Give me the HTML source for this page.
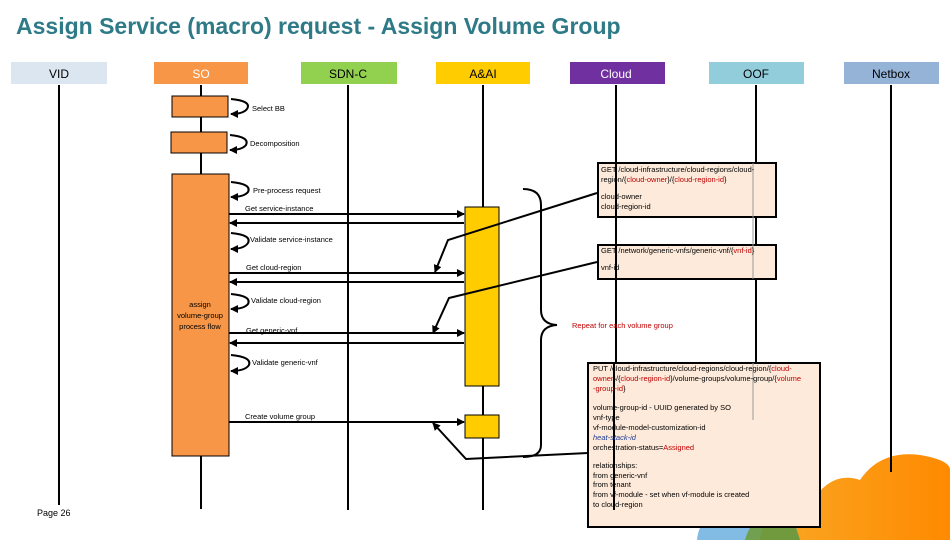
<!DOCTYPE html>
<html><head><meta charset="utf-8"><style>
body{margin:0;background:#fff;}
svg{display:block;font-family:"Liberation Sans",sans-serif;}
.t{font-size:7.5px;fill:#000;}
.r{fill:#c00000;}
</style></head><body>
<svg width="950" height="540" viewBox="0 0 950 540" xmlns="http://www.w3.org/2000/svg">
<defs>
<marker id="a" markerWidth="8" markerHeight="8" refX="7" refY="4" orient="auto" markerUnits="userSpaceOnUse"><path d="M0,0 L8,4 L0,8 z" fill="#000"/></marker>
<linearGradient id="og" x1="0" x2="1"><stop offset="0" stop-color="#f9a826"/><stop offset="1" stop-color="#ff8a00"/></linearGradient>
</defs>
<!-- decorative clouds -->
<path d="M760,540 Q765,500 810,505 Q830,470 860,480 Q880,450 920,455 Q950,460 950,470 L950,540 z" fill="url(#og)"/>
<path d="M697,540 Q700,508 740,510 Q760,495 790,508 L800,540 z" fill="#2f8ed0" opacity="0.6"/>
<path d="M745,540 Q755,505 790,512 L800,540 z" fill="#6d9a2a" opacity="0.8"/>
<text x="16" y="34" font-size="23" font-weight="bold" fill="#2e7a87">Assign Service (macro) request - Assign Volume Group</text>
<!-- headers -->
<g font-size="12" text-anchor="middle">
<rect x="11" y="62" width="96" height="22" fill="#dce6f1"/><text x="59" y="78">VID</text>
<rect x="154" y="62" width="94" height="22" fill="#f79646"/><text x="201" y="78" fill="#fff">SO</text>
<rect x="301" y="62" width="96" height="22" fill="#92d050"/><text x="348" y="78">SDN-C</text>
<rect x="436" y="62" width="94" height="22" fill="#ffcc00"/><text x="483" y="78">A&amp;AI</text>
<rect x="570" y="62" width="95" height="22" fill="#7030a0"/><text x="616" y="78" fill="#fff">Cloud</text>
<rect x="709" y="62" width="95" height="22" fill="#92cddc"/><text x="756" y="78">OOF</text>
<rect x="844" y="62" width="95" height="22" fill="#95b3d7"/><text x="891" y="78">Netbox</text>
</g>
<!-- lifelines -->
<g stroke="#000" stroke-width="2">
<line x1="59" y1="85" x2="59" y2="505"/>
<line x1="201" y1="85" x2="201" y2="509"/>
<line x1="348" y1="85" x2="348" y2="510"/>
<line x1="483" y1="85" x2="483" y2="510"/>
<line x1="616" y1="85" x2="616" y2="510"/>
<line x1="756" y1="85" x2="756" y2="472"/>
<line x1="891" y1="85" x2="891" y2="472"/>
</g>
<!-- SO activations -->
<g fill="#f79646" stroke="#000" stroke-width="1">
<rect x="172" y="96" width="56" height="21"/>
<rect x="171" y="132" width="56" height="21"/>
<rect x="172" y="174" width="57" height="282"/>
</g>
<text x="200" y="307" class="t" text-anchor="middle">assign</text>
<text x="200" y="318" class="t" text-anchor="middle">volume-group</text>
<text x="200" y="329" class="t" text-anchor="middle">process flow</text>
<!-- A&AI activations -->
<g fill="#ffcc00" stroke="#000" stroke-width="1">
<rect x="465" y="207" width="34" height="179"/>
<rect x="465" y="415" width="34" height="23"/>
</g>
<!-- self loops -->
<g fill="none" stroke="#000" stroke-width="2" marker-end="url(#a)">
<path d="M231,99 Q252,101 247,109 Q243,114 231,114"/>
<path d="M230,135 Q250,137 246,145 Q242,150 230,150"/>
<path d="M231,182 Q252,184 248,192 Q244,197 231,197"/>
<path d="M231,233 Q252,235 248,243 Q244,249 231,249"/>
<path d="M231,294 Q252,296 248,304 Q244,309 231,309"/>
<path d="M231,355 Q252,357 249,365 Q245,371 231,371"/>
</g>
<!-- messages -->
<g stroke="#000" stroke-width="2" marker-end="url(#a)">
<line x1="229" y1="214" x2="464" y2="214"/>
<line x1="464" y1="223" x2="230" y2="223"/>
<line x1="229" y1="273" x2="464" y2="273"/>
<line x1="464" y1="282" x2="230" y2="282"/>
<line x1="229" y1="333" x2="464" y2="333"/>
<line x1="464" y1="343" x2="230" y2="343"/>
<line x1="229" y1="422" x2="464" y2="422"/>
</g>
<g class="t">
<text x="252" y="111" class="t">Select BB</text>
<text x="250" y="146" class="t">Decomposition</text>
<text x="253" y="193" class="t">Pre-process request</text>
<text x="245" y="211" class="t">Get service-instance</text>
<text x="250" y="242" class="t">Validate service-instance</text>
<text x="246" y="270" class="t">Get cloud-region</text>
<text x="251" y="303" class="t">Validate cloud-region</text>
<text x="246" y="333" class="t">Get generic-vnf</text>
<text x="252" y="365" class="t">Validate generic-vnf</text>
<text x="245" y="419" class="t">Create volume group</text>
</g>
<!-- brace -->
<path d="M523,189 Q541,189 541,205 L541,310 Q541,324 557,325 Q541,326 541,340 L541,445 Q541,457 523,457" fill="none" stroke="#000" stroke-width="2"/>
<text x="572" y="328" class="t r">Repeat for each volume group</text>
<!-- notes -->
<g fill="#fdeada" stroke="#000" stroke-width="2">
<rect x="598" y="163" width="178" height="54"/>
<rect x="598" y="245" width="178" height="34"/>
<rect x="588" y="363" width="232" height="164"/>
</g>
<line x1="616" y1="163" x2="616" y2="279" stroke="#000" stroke-width="2"/>
<line x1="614" y1="363" x2="614" y2="510" stroke="#000" stroke-width="2"/>
<line x1="753" y1="163" x2="753" y2="279" stroke="#999" stroke-width="1"/>
<line x1="753" y1="363" x2="753" y2="420" stroke="#999" stroke-width="1"/>
<g class="t">
<text x="601" y="172" class="t">GET /cloud-infrastructure/cloud-regions/cloud-</text>
<text x="601" y="182" class="t">region/{<tspan class="r">cloud-owner</tspan>}/{<tspan class="r">cloud-region-id</tspan>}</text>
<text x="601" y="199" class="t">cloud-owner</text>
<text x="601" y="209" class="t">cloud-region-id</text>
<text x="601" y="253" class="t">GET /network/generic-vnfs/generic-vnf/{<tspan class="r">vnf-id</tspan>}</text>
<text x="601" y="270" class="t">vnf-id</text>
<text x="593" y="371" class="t">PUT /cloud-infrastructure/cloud-regions/cloud-region/{<tspan class="r">cloud-</tspan></text>
<text x="593" y="381" class="t"><tspan class="r">owner</tspan>}/{<tspan class="r">cloud-region-id</tspan>}/volume-groups/volume-group/{<tspan class="r">volume</tspan></text>
<text x="593" y="391" class="t"><tspan class="r">-group-id</tspan>}</text>
<text x="593" y="410" class="t">volume-group-id - UUID generated by SO</text>
<text x="593" y="420" class="t">vnf-type</text>
<text x="593" y="430" class="t">vf-module-model-customization-id</text>
<text x="593" y="440" class="t" font-style="italic" style="fill:#1f3a93">heat-stack-id</text>
<text x="593" y="450" class="t">orchestration-status=<tspan class="r">Assigned</tspan></text>
<text x="593" y="468" class="t">relationships:</text>
<text x="593" y="478" class="t">from generic-vnf</text>
<text x="593" y="487" class="t">from tenant</text>
<text x="593" y="497" class="t">from vf-module - set when vf-module is created</text>
<text x="593" y="507" class="t">to cloud-region</text>
</g>
<!-- connectors -->
<g fill="none" stroke="#000" stroke-width="2" marker-end="url(#a)">
<polyline points="597,193 448,240 435,272"/>
<polyline points="597,262 449,298 433,333"/>
<polyline points="588,453 466,459 433,423"/>
</g>
<text x="37" y="516" font-size="9">Page 26</text>
</svg>
</body></html>
